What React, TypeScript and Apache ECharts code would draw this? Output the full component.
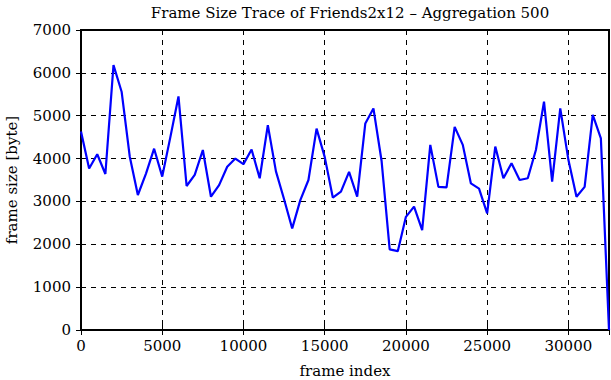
import React, { useEffect, useRef } from "react";
import * as echarts from "echarts";

const titleText = "Frame Size Trace of Friends2x12 \u2013 Aggregation 500";
const xName = "frame index";
const yName = "frame size [byte]";
const aggregation = 500;
const frameSizes = [
  4630, 3770, 4100, 3640, 6180, 5560, 4050, 3150, 3650, 4230,
  3580, 4500, 5450, 3360, 3620, 4200, 3110, 3380, 3810, 4000,
  3870, 4210, 3540, 4780, 3700, 3050, 2370, 3030, 3500, 4700,
  4040, 3090, 3230, 3690, 3110, 4820, 5170, 3950, 1880, 1840,
  2640, 2880, 2330, 4320, 3340, 3330, 4740, 4320, 3420, 3300,
  2720, 4280, 3540, 3890, 3500, 3540, 4200, 5330, 3460, 5170,
  3970, 3110, 3340, 5020, 4470, 0,
];

const FONT = "DejaVu Serif";
const FS = 15;

export default function App() {
  const ref = useRef<HTMLDivElement>(null);
  useEffect(() => {
    if (!ref.current) return;
    const chart = echarts.init(ref.current, null, { renderer: "svg" });
    const data = frameSizes.map((v, i) => [i * aggregation, v]);
    const xMax = (frameSizes.length - 1) * aggregation;
    const dashed = { show: true, lineStyle: { color: "#000", type: [5, 5] as any, width: 1 } };
    const plain = (v: number) => String(v);
    chart.setOption({
      animation: false,
      backgroundColor: "#fff",
      title: {
        text: titleText,
        left: 345,
        top: 0,
        textAlign: "center",
        textStyle: { fontFamily: FONT, fontWeight: "normal", fontSize: FS, color: "#000" },
      },
      grid: {
        left: 81,
        right: 2,
        top: 30,
        bottom: 50,
        outerBoundsMode: "none",
        containLabel: false,
        show: true,
        borderColor: "#000",
        borderWidth: 2,
        backgroundColor: "transparent",
      },
      xAxis: [
        {
          type: "value",
          min: 0,
          max: xMax,
          interval: 5000,
          name: xName,
          nameLocation: "middle",
          nameGap: 33,
          nameTextStyle: { fontFamily: FONT, fontSize: FS, color: "#000" },
          axisLine: { show: true, lineStyle: { color: "#000", width: 2 } },
          axisTick: { show: true, inside: true, length: 5, lineStyle: { color: "#000", width: 1 } },
          axisLabel: {
            fontFamily: FONT,
            fontSize: FS,
            color: "#000",
            margin: 8,
            showMaxLabel: false,
            formatter: plain,
          },
          splitLine: dashed,
        },
        {
          type: "value",
          position: "top",
          min: 0,
          max: xMax,
          interval: 5000,
          axisLine: { show: false },
          axisTick: { show: true, inside: true, length: 5, lineStyle: { color: "#000", width: 1 } },
          axisLabel: { show: false },
          splitLine: { show: false },
        },
      ],
      yAxis: [
        {
          type: "value",
          min: 0,
          max: 7000,
          interval: 1000,
          name: yName,
          nameLocation: "middle",
          nameGap: 62,
          nameTextStyle: { fontFamily: FONT, fontSize: FS, color: "#000" },
          axisLine: { show: true, lineStyle: { color: "#000", width: 2 } },
          axisTick: { show: true, inside: true, length: 5, lineStyle: { color: "#000", width: 1 } },
          axisLabel: { fontFamily: FONT, fontSize: FS, color: "#000", margin: 10, formatter: plain },
          splitLine: dashed,
        },
        {
          type: "value",
          position: "right",
          min: 0,
          max: 7000,
          interval: 1000,
          axisLine: { show: false },
          axisTick: { show: true, inside: true, length: 5, lineStyle: { color: "#000", width: 1 } },
          axisLabel: { show: false },
          splitLine: { show: false },
        },
      ],
      series: [
        {
          type: "line",
          data,
          showSymbol: false,
          symbol: "none",
          lineStyle: { color: "#0000ff", width: 2.2 },
          z: 5,
        },
      ],
    });
    return () => chart.dispose();
  }, []);
  return (
    <div
      ref={ref}
      style={{ position: "fixed", left: 0, top: 0, width: 611, height: 380, background: "#fff" }}
    />
  );
}
